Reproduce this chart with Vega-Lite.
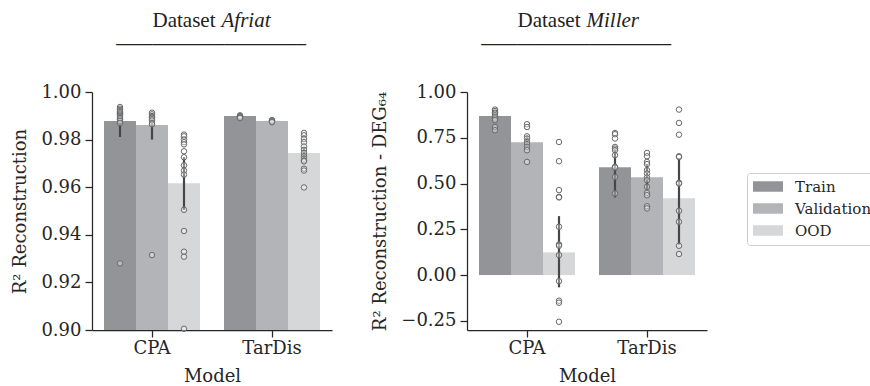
{
  "$schema": "https://vega.github.io/schema/vega-lite/v6.json",
  "padding": {"left": 11, "top": 9, "right": 0, "bottom": 0},
  "bounds": "flush",
  "spacing": 135,
  "config": {
    "font": "DejaVu Serif",
    "view": {"stroke": null},
    "axis": {"grid": false, "domainColor": "#262626", "domainWidth": 1.25, "tickColor": "#262626", "tickWidth": 1.25, "tickSize": 7, "labelFont": "DejaVu Serif", "labelFontSize": 18, "labelColor": "#262626", "titleFont": "DejaVu Serif", "titleFontSize": 18, "titleFontWeight": "normal", "titleColor": "#262626"},
    "axisX": {"labelAngle": 0, "labelPadding": 2, "titlePadding": 10},
    "axisY": {"labelPadding": 4, "titlePadding": 11},
    "title": {"font": "Liberation Serif", "fontSize": 21, "fontWeight": "normal", "color": "#222222", "subtitleFont": "DejaVu Sans Mono", "subtitleFontSize": 15, "subtitleColor": "#222222", "subtitlePadding": 7, "anchor": "middle", "frame": "group"},
    "legend": {"orient": "none", "legendX": 655, "legendY": 81, "labelFont": "DejaVu Serif", "labelFontSize": 15, "labelColor": "#262626", "symbolSize": 225, "symbolStrokeWidth": 0, "strokeColor": "#cccccc", "fillColor": "#ffffff", "padding": 6, "cornerRadius": 3, "rowPadding": 6, "labelOffset": 27}
  },
  "datasets": {
    "bars": [
      {"d": "Afriat", "m": "CPA", "s": "Train", "mean": 0.9878, "lo": 0.9811, "hi": 0.9925},
      {"d": "Afriat", "m": "CPA", "s": "Validation", "mean": 0.9861, "lo": 0.9800, "hi": 0.9905},
      {"d": "Afriat", "m": "CPA", "s": "OOD", "mean": 0.9617, "lo": 0.9505, "hi": 0.9726},
      {"d": "Afriat", "m": "TarDis", "s": "Train", "mean": 0.9899, "lo": 0.9894, "hi": 0.9904},
      {"d": "Afriat", "m": "TarDis", "s": "Validation", "mean": 0.9878, "lo": 0.9874, "hi": 0.9882},
      {"d": "Afriat", "m": "TarDis", "s": "OOD", "mean": 0.9744, "lo": 0.9720, "hi": 0.9768},
      {"d": "Miller", "m": "CPA", "s": "Train", "mean": 0.869, "lo": 0.850, "hi": 0.885},
      {"d": "Miller", "m": "CPA", "s": "Validation", "mean": 0.726, "lo": 0.700, "hi": 0.760},
      {"d": "Miller", "m": "CPA", "s": "OOD", "mean": 0.124, "lo": -0.067, "hi": 0.322},
      {"d": "Miller", "m": "TarDis", "s": "Train", "mean": 0.589, "lo": 0.424, "hi": 0.700},
      {"d": "Miller", "m": "TarDis", "s": "Validation", "mean": 0.535, "lo": 0.470, "hi": 0.600},
      {"d": "Miller", "m": "TarDis", "s": "OOD", "mean": 0.420, "lo": 0.167, "hi": 0.637}
    ],
    "points": [
      {"d": "Afriat", "m": "CPA", "s": "Train", "v": 0.9937},
      {"d": "Afriat", "m": "CPA", "s": "Train", "v": 0.9930},
      {"d": "Afriat", "m": "CPA", "s": "Train", "v": 0.9925},
      {"d": "Afriat", "m": "CPA", "s": "Train", "v": 0.9920},
      {"d": "Afriat", "m": "CPA", "s": "Train", "v": 0.9915},
      {"d": "Afriat", "m": "CPA", "s": "Train", "v": 0.9910},
      {"d": "Afriat", "m": "CPA", "s": "Train", "v": 0.9905},
      {"d": "Afriat", "m": "CPA", "s": "Train", "v": 0.9900},
      {"d": "Afriat", "m": "CPA", "s": "Train", "v": 0.9895},
      {"d": "Afriat", "m": "CPA", "s": "Train", "v": 0.9890},
      {"d": "Afriat", "m": "CPA", "s": "Train", "v": 0.9885},
      {"d": "Afriat", "m": "CPA", "s": "Train", "v": 0.9878},
      {"d": "Afriat", "m": "CPA", "s": "Train", "v": 0.9870},
      {"d": "Afriat", "m": "CPA", "s": "Train", "v": 0.9280},
      {"d": "Afriat", "m": "CPA", "s": "Validation", "v": 0.9913},
      {"d": "Afriat", "m": "CPA", "s": "Validation", "v": 0.9906},
      {"d": "Afriat", "m": "CPA", "s": "Validation", "v": 0.9899},
      {"d": "Afriat", "m": "CPA", "s": "Validation", "v": 0.9895},
      {"d": "Afriat", "m": "CPA", "s": "Validation", "v": 0.9892},
      {"d": "Afriat", "m": "CPA", "s": "Validation", "v": 0.9886},
      {"d": "Afriat", "m": "CPA", "s": "Validation", "v": 0.9880},
      {"d": "Afriat", "m": "CPA", "s": "Validation", "v": 0.9870},
      {"d": "Afriat", "m": "CPA", "s": "Validation", "v": 0.9864},
      {"d": "Afriat", "m": "CPA", "s": "Validation", "v": 0.9315},
      {"d": "Afriat", "m": "CPA", "s": "OOD", "v": 0.9821},
      {"d": "Afriat", "m": "CPA", "s": "OOD", "v": 0.9814},
      {"d": "Afriat", "m": "CPA", "s": "OOD", "v": 0.9800},
      {"d": "Afriat", "m": "CPA", "s": "OOD", "v": 0.9789},
      {"d": "Afriat", "m": "CPA", "s": "OOD", "v": 0.9780},
      {"d": "Afriat", "m": "CPA", "s": "OOD", "v": 0.9751},
      {"d": "Afriat", "m": "CPA", "s": "OOD", "v": 0.9726},
      {"d": "Afriat", "m": "CPA", "s": "OOD", "v": 0.9692},
      {"d": "Afriat", "m": "CPA", "s": "OOD", "v": 0.9670},
      {"d": "Afriat", "m": "CPA", "s": "OOD", "v": 0.9653},
      {"d": "Afriat", "m": "CPA", "s": "OOD", "v": 0.9505},
      {"d": "Afriat", "m": "CPA", "s": "OOD", "v": 0.9416},
      {"d": "Afriat", "m": "CPA", "s": "OOD", "v": 0.9329},
      {"d": "Afriat", "m": "CPA", "s": "OOD", "v": 0.9308},
      {"d": "Afriat", "m": "CPA", "s": "OOD", "v": 0.9005},
      {"d": "Afriat", "m": "TarDis", "s": "Train", "v": 0.9902},
      {"d": "Afriat", "m": "TarDis", "s": "Train", "v": 0.9899},
      {"d": "Afriat", "m": "TarDis", "s": "Train", "v": 0.9896},
      {"d": "Afriat", "m": "TarDis", "s": "Train", "v": 0.9893},
      {"d": "Afriat", "m": "TarDis", "s": "Train", "v": 0.9890},
      {"d": "Afriat", "m": "TarDis", "s": "Validation", "v": 0.9882},
      {"d": "Afriat", "m": "TarDis", "s": "Validation", "v": 0.9879},
      {"d": "Afriat", "m": "TarDis", "s": "Validation", "v": 0.9876},
      {"d": "Afriat", "m": "TarDis", "s": "Validation", "v": 0.9873},
      {"d": "Afriat", "m": "TarDis", "s": "OOD", "v": 0.9828},
      {"d": "Afriat", "m": "TarDis", "s": "OOD", "v": 0.9818},
      {"d": "Afriat", "m": "TarDis", "s": "OOD", "v": 0.9803},
      {"d": "Afriat", "m": "TarDis", "s": "OOD", "v": 0.9789},
      {"d": "Afriat", "m": "TarDis", "s": "OOD", "v": 0.9771},
      {"d": "Afriat", "m": "TarDis", "s": "OOD", "v": 0.9757},
      {"d": "Afriat", "m": "TarDis", "s": "OOD", "v": 0.9744},
      {"d": "Afriat", "m": "TarDis", "s": "OOD", "v": 0.9730},
      {"d": "Afriat", "m": "TarDis", "s": "OOD", "v": 0.9720},
      {"d": "Afriat", "m": "TarDis", "s": "OOD", "v": 0.9712},
      {"d": "Afriat", "m": "TarDis", "s": "OOD", "v": 0.9709},
      {"d": "Afriat", "m": "TarDis", "s": "OOD", "v": 0.9678},
      {"d": "Afriat", "m": "TarDis", "s": "OOD", "v": 0.9670},
      {"d": "Afriat", "m": "TarDis", "s": "OOD", "v": 0.9599},
      {"d": "Miller", "m": "CPA", "s": "Train", "v": 0.904},
      {"d": "Miller", "m": "CPA", "s": "Train", "v": 0.896},
      {"d": "Miller", "m": "CPA", "s": "Train", "v": 0.887},
      {"d": "Miller", "m": "CPA", "s": "Train", "v": 0.882},
      {"d": "Miller", "m": "CPA", "s": "Train", "v": 0.873},
      {"d": "Miller", "m": "CPA", "s": "Train", "v": 0.864},
      {"d": "Miller", "m": "CPA", "s": "Train", "v": 0.855},
      {"d": "Miller", "m": "CPA", "s": "Train", "v": 0.846},
      {"d": "Miller", "m": "CPA", "s": "Train", "v": 0.809},
      {"d": "Miller", "m": "CPA", "s": "Train", "v": 0.791},
      {"d": "Miller", "m": "CPA", "s": "Validation", "v": 0.824},
      {"d": "Miller", "m": "CPA", "s": "Validation", "v": 0.809},
      {"d": "Miller", "m": "CPA", "s": "Validation", "v": 0.758},
      {"d": "Miller", "m": "CPA", "s": "Validation", "v": 0.746},
      {"d": "Miller", "m": "CPA", "s": "Validation", "v": 0.727},
      {"d": "Miller", "m": "CPA", "s": "Validation", "v": 0.715},
      {"d": "Miller", "m": "CPA", "s": "Validation", "v": 0.700},
      {"d": "Miller", "m": "CPA", "s": "Validation", "v": 0.682},
      {"d": "Miller", "m": "CPA", "s": "Validation", "v": 0.618},
      {"d": "Miller", "m": "CPA", "s": "OOD", "v": 0.727},
      {"d": "Miller", "m": "CPA", "s": "OOD", "v": 0.622},
      {"d": "Miller", "m": "CPA", "s": "OOD", "v": 0.464},
      {"d": "Miller", "m": "CPA", "s": "OOD", "v": 0.427},
      {"d": "Miller", "m": "CPA", "s": "OOD", "v": 0.424},
      {"d": "Miller", "m": "CPA", "s": "OOD", "v": 0.264},
      {"d": "Miller", "m": "CPA", "s": "OOD", "v": 0.167},
      {"d": "Miller", "m": "CPA", "s": "OOD", "v": 0.160},
      {"d": "Miller", "m": "CPA", "s": "OOD", "v": 0.109},
      {"d": "Miller", "m": "CPA", "s": "OOD", "v": -0.033},
      {"d": "Miller", "m": "CPA", "s": "OOD", "v": -0.140},
      {"d": "Miller", "m": "CPA", "s": "OOD", "v": -0.151},
      {"d": "Miller", "m": "CPA", "s": "OOD", "v": -0.255},
      {"d": "Miller", "m": "TarDis", "s": "Train", "v": 0.776},
      {"d": "Miller", "m": "TarDis", "s": "Train", "v": 0.769},
      {"d": "Miller", "m": "TarDis", "s": "Train", "v": 0.746},
      {"d": "Miller", "m": "TarDis", "s": "Train", "v": 0.700},
      {"d": "Miller", "m": "TarDis", "s": "Train", "v": 0.691},
      {"d": "Miller", "m": "TarDis", "s": "Train", "v": 0.682},
      {"d": "Miller", "m": "TarDis", "s": "Train", "v": 0.655},
      {"d": "Miller", "m": "TarDis", "s": "Train", "v": 0.591},
      {"d": "Miller", "m": "TarDis", "s": "Train", "v": 0.588},
      {"d": "Miller", "m": "TarDis", "s": "Train", "v": 0.536},
      {"d": "Miller", "m": "TarDis", "s": "Train", "v": 0.446},
      {"d": "Miller", "m": "TarDis", "s": "Validation", "v": 0.667},
      {"d": "Miller", "m": "TarDis", "s": "Validation", "v": 0.649},
      {"d": "Miller", "m": "TarDis", "s": "Validation", "v": 0.618},
      {"d": "Miller", "m": "TarDis", "s": "Validation", "v": 0.606},
      {"d": "Miller", "m": "TarDis", "s": "Validation", "v": 0.573},
      {"d": "Miller", "m": "TarDis", "s": "Validation", "v": 0.555},
      {"d": "Miller", "m": "TarDis", "s": "Validation", "v": 0.533},
      {"d": "Miller", "m": "TarDis", "s": "Validation", "v": 0.518},
      {"d": "Miller", "m": "TarDis", "s": "Validation", "v": 0.482},
      {"d": "Miller", "m": "TarDis", "s": "Validation", "v": 0.449},
      {"d": "Miller", "m": "TarDis", "s": "Validation", "v": 0.436},
      {"d": "Miller", "m": "TarDis", "s": "Validation", "v": 0.376},
      {"d": "Miller", "m": "TarDis", "s": "Validation", "v": 0.364},
      {"d": "Miller", "m": "TarDis", "s": "OOD", "v": 0.904},
      {"d": "Miller", "m": "TarDis", "s": "OOD", "v": 0.831},
      {"d": "Miller", "m": "TarDis", "s": "OOD", "v": 0.767},
      {"d": "Miller", "m": "TarDis", "s": "OOD", "v": 0.649},
      {"d": "Miller", "m": "TarDis", "s": "OOD", "v": 0.645},
      {"d": "Miller", "m": "TarDis", "s": "OOD", "v": 0.504},
      {"d": "Miller", "m": "TarDis", "s": "OOD", "v": 0.500},
      {"d": "Miller", "m": "TarDis", "s": "OOD", "v": 0.351},
      {"d": "Miller", "m": "TarDis", "s": "OOD", "v": 0.291},
      {"d": "Miller", "m": "TarDis", "s": "OOD", "v": 0.160},
      {"d": "Miller", "m": "TarDis", "s": "OOD", "v": 0.115}
    ]
  },
  "hconcat": [
    {
      "width": 240,
      "height": 238,
      "title": {"text": "Dataset", "subtitle": "\u200b\u00a0\u00a0\u00a0\u00a0\u00a0\u00a0─────────────────────", "dx": -28, "offset": -44},
      "resolve": {"axis": {"x": "independent"}},
      "encoding": {
        "x": {"field": "m", "type": "nominal", "scale": {"domain": ["CPA", "TarDis"], "paddingInner": 0.2, "paddingOuter": 0.1}, "axis": {"title": "Model"}},
        "xOffset": {"field": "s", "type": "nominal", "scale": {"domain": ["Train", "Validation", "OOD"], "paddingInner": 0, "paddingOuter": 0}}
      },
      "layer": [
        {
          "data": {"name": "bars"},
          "transform": [{"filter": "datum.d === 'Afriat'"}],
          "mark": {"type": "bar", "clip": true},
          "encoding": {
            "y": {"field": "mean", "type": "quantitative", "scale": {"domain": [0.9, 1.0], "nice": false, "zero": false}, "axis": {"title": "R² Reconstruction", "values": [0.9, 0.92, 0.94, 0.96, 0.98, 1.0], "format": ".2f"}},
            "color": {"field": "s", "type": "nominal", "scale": {"domain": ["Train", "Validation", "OOD"], "range": ["#939497", "#b3b4b7", "#d6d7d9"]}, "legend": {"title": null, "symbolType": "M-1,-0.7H3V0.7H-1Z"}}
          }
        },
        {
          "data": {"name": "bars"},
          "transform": [{"filter": "datum.d === 'Afriat'"}],
          "mark": {"type": "rule", "color": "#464646", "strokeWidth": 2.2},
          "encoding": {"x": {"field": "m", "type": "nominal", "axis": null}, "y": {"field": "lo", "type": "quantitative"}, "y2": {"field": "hi"}}
        },
        {
          "data": {"name": "points"},
          "transform": [{"filter": "datum.d === 'Afriat'"}],
          "mark": {"type": "circle", "size": 30, "fill": "#ffffff", "fillOpacity": 0.35, "stroke": "#6a6a6a", "strokeWidth": 1, "opacity": 1},
          "encoding": {
            "x": {"field": "m", "type": "nominal", "axis": {"orient": "top", "title": "Afriat", "titleFont": "Liberation Serif", "titleFontSize": 21, "titleFontStyle": "italic", "titleFontWeight": "normal", "titleColor": "#222222", "titleAngle": 0, "titleAlign": "left", "titleBaseline": "alphabetic", "titleX": 129, "titleY": -66, "labels": false, "ticks": false, "domain": false}},
            "y": {"field": "v", "type": "quantitative"}
          }
        }
      ]
    },
    {
      "width": 240,
      "height": 238,
      "title": {"text": "Dataset", "subtitle": "\u200b\u00a0\u00a0\u00a0\u00a0\u00a0\u00a0─────────────────────", "dx": -38, "offset": -44},
      "resolve": {"axis": {"x": "independent"}},
      "encoding": {
        "x": {"field": "m", "type": "nominal", "scale": {"domain": ["CPA", "TarDis"], "paddingInner": 0.2, "paddingOuter": 0.1}, "axis": {"title": "Model"}},
        "xOffset": {"field": "s", "type": "nominal", "scale": {"domain": ["Train", "Validation", "OOD"], "paddingInner": 0, "paddingOuter": 0}}
      },
      "layer": [
        {
          "data": {"name": "bars"},
          "transform": [{"filter": "datum.d === 'Miller'"}],
          "mark": {"type": "bar", "clip": true},
          "encoding": {
            "y": {"field": "mean", "type": "quantitative", "scale": {"domain": [-0.3, 1.0], "nice": false}, "axis": {"title": "R² Reconstruction - DEG₆₄", "values": [-0.25, 0, 0.25, 0.5, 0.75, 1.0], "format": ".2f"}},
            "color": {"field": "s", "type": "nominal", "scale": {"domain": ["Train", "Validation", "OOD"], "range": ["#939497", "#b3b4b7", "#d6d7d9"]}, "legend": {"title": null, "symbolType": "M-1,-0.7H3V0.7H-1Z"}}
          }
        },
        {
          "data": {"name": "bars"},
          "transform": [{"filter": "datum.d === 'Miller'"}],
          "mark": {"type": "rule", "color": "#464646", "strokeWidth": 2.2},
          "encoding": {"x": {"field": "m", "type": "nominal", "axis": null}, "y": {"field": "lo", "type": "quantitative"}, "y2": {"field": "hi"}}
        },
        {
          "data": {"name": "points"},
          "transform": [{"filter": "datum.d === 'Miller'"}],
          "mark": {"type": "circle", "size": 30, "fill": "#ffffff", "fillOpacity": 0.35, "stroke": "#6a6a6a", "strokeWidth": 1, "opacity": 1},
          "encoding": {
            "x": {"field": "m", "type": "nominal", "axis": {"orient": "top", "title": "Miller", "titleFont": "Liberation Serif", "titleFontSize": 21, "titleFontStyle": "italic", "titleFontWeight": "normal", "titleColor": "#222222", "titleAngle": 0, "titleAlign": "left", "titleBaseline": "alphabetic", "titleX": 119, "titleY": -66, "labels": false, "ticks": false, "domain": false}},
            "y": {"field": "v", "type": "quantitative"}
          }
        }
      ]
    }
  ]
}
